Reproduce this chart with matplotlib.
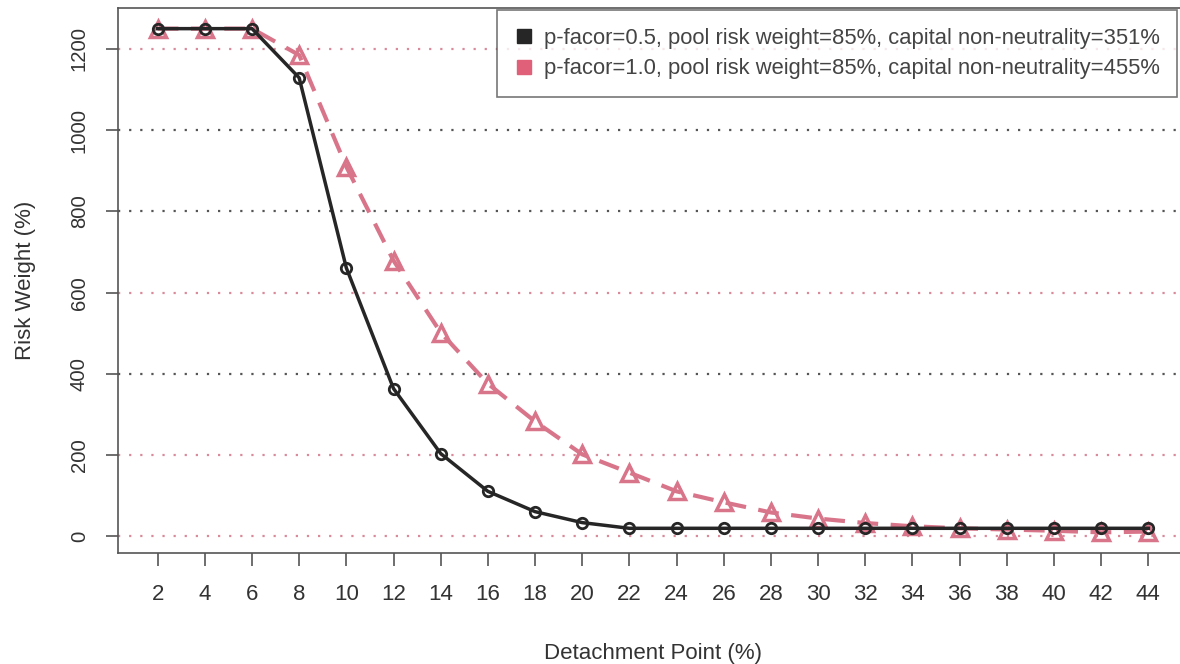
import matplotlib
matplotlib.use("Agg")
import matplotlib.pyplot as plt
from matplotlib.lines import Line2D

detach = [2, 4, 6, 8, 10, 12, 14, 16, 18, 20, 22, 24, 26, 28, 30, 32, 34, 36, 38, 40, 42, 44]
rw_p05 = [1250, 1250, 1250, 1129, 661, 364, 204, 111, 61, 34, 20, 20, 20, 20, 20, 20, 20, 20, 20, 20, 20, 20]
rw_p10 = [1250, 1250, 1250, 1185, 910, 679, 502, 376, 283, 202, 157, 111, 84, 59, 44, 33, 25, 20, 17, 14, 10, 12]
yticks = [0, 200, 400, 600, 800, 1000, 1200]
labels = ["p-facor=0.5, pool risk weight=85%, capital non-neutrality=351%",
          "p-facor=1.0, pool risk weight=85%, capital non-neutrality=455%"]

plt.rcParams['font.family'] = ['Liberation Sans', 'DejaVu Sans']
fig = plt.figure(figsize=(11.8, 6.64), dpi=100)
ax = fig.add_axes([118 / 1180, 0.1679, 1070 / 1180, 0.8193])

black = '#262626'
red = '#d9758a'
grid_cols = ['#d98a9a', '#d98a9a', '#555555', '#d98a9a', '#555555', '#555555', '#d98a9a']
for yv, gc in zip(yticks, grid_cols):
    ax.axhline(yv, color=gc, linestyle=(0, (1, 4)), lw=1.6, zorder=1)

ax.plot(detach, rw_p10, color=red, lw=3, linestyle=(0, (5, 3)), marker='^',
        markersize=11, markerfacecolor='none', markeredgecolor=red, markeredgewidth=2.5, zorder=3)
ax.plot(detach, rw_p05, color=black, lw=2.5, marker='o', markersize=7.5,
        markerfacecolor='none', markeredgecolor=black, markeredgewidth=2, zorder=4)

ax.set_xlim(0.32, 45.68)
ax.set_ylim(-39.6, 1299.6)
ax.set_xticks(detach)
ax.set_xticklabels([str(d) for d in detach])
ax.set_yticks(yticks)
ax.set_yticklabels([str(v) for v in yticks], rotation=90, va='center')
ax.tick_params(axis='both', labelcolor='#333333', color='#555555', length=9, width=1.2, direction='out')
ax.tick_params(axis='x', labelsize=16, pad=14)
ax.tick_params(axis='y', labelsize=14.6, pad=12)
for s in ax.spines.values():
    s.set_color('#555555')
    s.set_linewidth(1.2)

fig.text(653 / 1180, 1 - 653 / 664, "Detachment Point (%)", fontsize=16, color='#333333',
         ha='center', va='center')
ax.set_ylabel("Risk Weight (%)", fontsize=16, color='#333333', labelpad=24)

handles = [Line2D([], [], linestyle='none', marker='s', markersize=10, color=black),
           Line2D([], [], linestyle='none', marker='s', markersize=10, color='#e0607a')]
leg = fig.legend(handles, labels, loc='upper right', bbox_to_anchor=(1177 / 1180, 1 - 10 / 664),
                 fontsize=15.8, frameon=True, fancybox=False,
                 edgecolor='#555555', handletextpad=0.5, borderpad=0.8, labelspacing=0.45,
                 handlelength=0.8, borderaxespad=0.0)
leg.get_frame().set_linewidth(1.2)
for t in leg.get_texts():
    t.set_color('#444444')

fig.savefig("out.png", dpi=100)
